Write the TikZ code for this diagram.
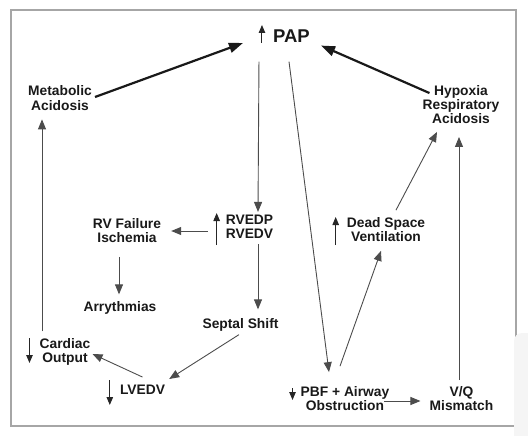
\documentclass[tikz,border=0pt]{standalone}
\usepackage{fontspec}
\setmainfont{Liberation Sans}
\usepackage{xcolor}
\usetikzlibrary{positioning,arrows.meta,calc}

\begin{document}
\begin{tikzpicture}[
      x=1pt, y=-1pt,
      font=\bfseries\fontsize{13.8}{14.2}\selectfont,
      term/.style={align=center, inner sep=0pt, text=black!90},
      flow/.style={-{Triangle[length=10pt,width=8pt]}, line width=0.9pt, black!70},
      push/.style={-{Triangle[length=14pt,width=10pt]}, line width=2.2pt, black!90},
      ind/.style={-{Triangle[length=8pt,width=6.5pt]}, line width=1pt, black!85},
    ]
    \useasboundingbox (0,0) rectangle (528,436);
    \draw[gray!70, line width=1.4pt] (11,10) rectangle (516,426);
    \fill[black!4, rounded corners=8pt] (514,333) rectangle (540,450);

    \node[term, font=\bfseries\fontsize{18.5}{20}\selectfont] (pap) at (291.5,36) {PAP};
    \node[term] (meta)    at (60,98)     {Metabolic\\Acidosis};
    \node[term] (hypox)   at (461,104.5) {Hypoxia\\Respiratory\\Acidosis};
    \node[term] (rvfail)  at (127,230.5) {RV Failure\\Ischemia};
    \node[term] (rved)    at (249.5,227) {RVEDP\\RVEDV};
    \node[term] (dead)    at (386,229.5) {Dead Space\\Ventilation};
    \node[term] (arry)    at (120,308)   {Arrythmias};
    \node[term] (septal)  at (240.5,325) {Septal Shift};
    \node[term] (cardiac) at (65,352)    {Cardiac\\Output};
    \node[term] (lvedv)   at (142.5,390) {LVEDV};
    \node[term] (pbf)     at (345,398.5) {PBF + Airway\\Obstruction};
    \node[term] (vq)      at (461.5,398.5) {V/Q\\Mismatch};

    % up / down markers
    \draw[ind] (pap.west) ++(-11,7) -- ++(0,-18);
    \draw[ind] (rved.west) ++(-9,18) -- ++(0,-32);
    \draw[ind] (dead.west) ++(-11,15.5) -- ++(0,-28);
    \draw[ind] (cardiac.west) ++(-10,-14) -- ++(0,25);
    \draw[ind] (lvedv.west) ++(-10,-10) -- ++(0,25);
    \draw[ind] (pbf.west) ++(-8,-10.5) -- ++(0,12);

    \draw[push] ($(meta.east)+(3,-1)$) -- ($(pap.west)+(-30,7)$);
    \draw[push] ($(hypox.north west)+(7,8)$) -- ($(pap.south east)+(11,3)$);
    \draw[flow] ($(pap.south west)+(-14,19)$) -- ($(rved.north)+(8.5,-3)$);
    \draw[flow] ($(pap.south)+(-2.5,19)$) -- ($(pbf.north)+(-16,-14)$);
    \draw[flow] ($(rved.west)+(-18,4)$) -- ($(rvfail.east)+(10,0.5)$);
    \draw[flow] ($(rvfail.south)+(-8,14)$) -- ($(arry.north)+(-1,-7)$);
    \draw[flow] ($(rved.south)+(8.5,5)$) -- ($(septal.north)+(17.5,-9)$);
    \draw[flow] ($(septal.south)+(-1.5,3)$) -- ($(lvedv.east)+(4,-11)$);
    \draw[flow] ($(lvedv.north)+(0,-8)$) -- ($(cardiac.east)+(2,2)$);
    \draw[flow] ($(cardiac.north)+(-23,-7)$) -- ($(meta.south)+(-18,9)$);
    \draw[flow] ($(pbf.north)+(-5,-20)$) -- ($(dead.south)+(-5,9)$);
    \draw[flow] ($(dead.north)+(10,-7)$) -- ($(hypox.south)+(-24,8)$);
    \draw[flow] ($(vq.north)+(-2.5,-6)$) -- ($(hypox.south)+(-2,13)$);
    \draw[flow] ($(pbf.east)+(-5,2.5)$) -- ($(vq.west)+(-9,2.5)$);
  \end{tikzpicture}
\end{document}
